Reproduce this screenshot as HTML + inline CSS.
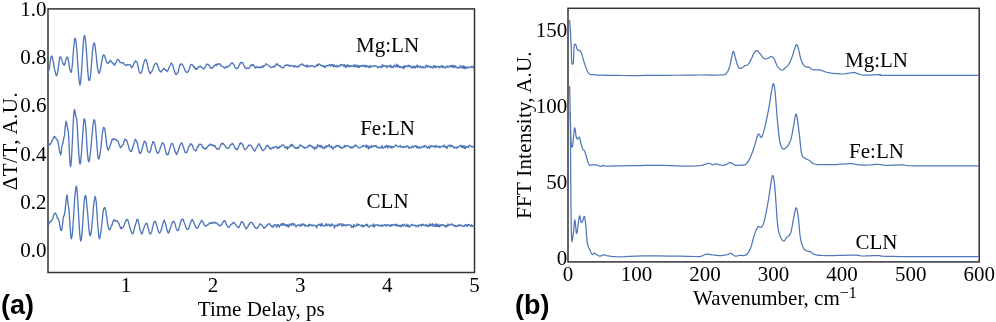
<!DOCTYPE html>
<html><head><meta charset="utf-8"><title>Figure</title>
<style>html,body{margin:0;padding:0;background:#fff;}svg{display:block;will-change:transform;}</style></head>
<body>
<svg width="996" height="322" viewBox="0 0 996 322">

<rect x="48" y="8.9" width="426.5" height="263.6" fill="none" stroke="#333" stroke-width="1.5"/>
<rect x="568" y="8.3" width="411.2" height="253.6" fill="none" stroke="#333" stroke-width="1.5"/>
<defs><clipPath id="cl"><rect x="48" y="0" width="426.5" height="272"/></clipPath><clipPath id="cr"><rect x="568.5" y="0" width="410.5" height="262"/></clipPath></defs>
<g clip-path="url(#cl)" fill="none" stroke="#5077ba" stroke-width="1.35" stroke-linejoin="round">
<path d="M48.00,73.77 L48.50,71.56 L49.00,70.52 L49.50,67.02 L50.00,63.69 L50.50,59.72 L51.00,57.12 L51.50,56.52 L52.01,55.96 L52.52,58.58 L53.03,60.41 L53.54,62.67 L54.05,66.51 L54.56,69.69 L55.07,71.03 L55.58,73.48 L56.09,75.25 L56.60,75.68 L57.14,74.49 L57.69,71.60 L58.23,69.07 L58.77,64.36 L59.31,59.59 L59.86,56.88 L60.40,57.22 L60.91,57.36 L61.43,58.96 L61.94,60.34 L62.46,61.64 L62.97,63.92 L63.49,64.15 L64.00,65.19 L64.53,64.89 L65.07,63.54 L65.60,60.84 L66.13,58.92 L66.67,57.58 L67.20,56.96 L67.74,57.85 L68.29,59.86 L68.83,62.81 L69.37,66.79 L69.91,69.65 L70.46,71.47 L71.00,72.34 L71.53,71.28 L72.05,67.49 L72.58,61.99 L73.10,55.30 L73.62,48.75 L74.15,43.01 L74.67,38.79 L75.20,38.18 L75.73,39.85 L76.27,43.65 L76.80,49.60 L77.33,57.48 L77.87,65.00 L78.40,72.23 L78.93,79.26 L79.47,82.90 L80.00,85.01 L80.50,82.76 L81.00,77.82 L81.50,71.91 L82.00,64.95 L82.50,55.55 L83.00,47.07 L83.50,40.76 L84.00,37.01 L84.50,35.51 L85.03,36.75 L85.57,41.27 L86.10,47.02 L86.63,54.17 L87.17,62.37 L87.70,70.27 L88.23,76.06 L88.77,80.05 L89.30,80.55 L89.82,79.77 L90.34,76.79 L90.87,71.23 L91.39,65.50 L91.91,58.60 L92.43,52.43 L92.96,46.83 L93.48,44.63 L94.00,42.92 L94.54,43.24 L95.09,46.04 L95.63,51.19 L96.18,54.98 L96.72,60.84 L97.27,65.91 L97.81,69.60 L98.36,71.78 L98.90,73.28 L99.43,72.80 L99.97,71.53 L100.50,68.95 L101.03,65.65 L101.57,62.82 L102.10,59.70 L102.63,57.13 L103.17,55.48 L103.70,54.80 L104.24,55.62 L104.79,56.10 L105.33,58.02 L105.87,60.22 L106.41,61.35 L106.96,62.99 L107.50,62.76 L108.00,63.13 L108.50,63.14 L109.00,62.44 L109.50,61.48 L110.00,60.89 L110.50,60.20 L111.04,61.77 L111.59,61.77 L112.13,62.81 L112.67,62.87 L113.21,63.97 L113.76,63.84 L114.30,65.13 L114.84,64.95 L115.39,63.08 L115.93,62.87 L116.47,62.07 L117.01,60.08 L117.56,59.38 L118.10,59.45 L118.70,60.03 L119.30,60.66 L119.90,62.22 L120.50,62.70 L121.15,62.62 L121.80,62.39 L122.33,62.89 L122.86,63.21 L123.39,62.83 L123.91,63.90 L124.44,64.33 L124.97,64.78 L125.50,65.37 L126.05,65.38 L126.60,65.52 L127.15,64.55 L127.70,64.58 L128.25,64.98 L128.80,64.80 L129.35,64.69 L129.90,64.77 L130.50,65.16 L131.10,67.12 L131.70,67.65 L132.24,67.22 L132.77,66.28 L133.31,65.45 L133.85,63.16 L134.39,62.66 L134.93,62.05 L135.46,60.71 L136.00,61.18 L136.55,61.63 L137.10,62.34 L137.65,64.82 L138.20,67.17 L138.75,69.87 L139.30,71.94 L139.85,73.01 L140.40,73.14 L140.92,73.10 L141.44,72.15 L141.96,70.94 L142.48,68.82 L143.00,66.25 L143.52,63.83 L144.04,62.31 L144.56,60.62 L145.08,59.47 L145.60,59.55 L146.12,59.81 L146.64,61.25 L147.17,63.24 L147.69,65.09 L148.21,68.62 L148.73,69.74 L149.26,72.16 L149.78,72.94 L150.30,73.77 L150.84,72.05 L151.38,72.00 L151.92,71.28 L152.46,69.99 L153.00,69.13 L153.54,66.69 L154.08,65.66 L154.62,64.31 L155.16,63.65 L155.70,63.21 L156.22,63.14 L156.74,64.04 L157.26,64.32 L157.78,66.47 L158.30,66.87 L158.82,68.73 L159.34,70.72 L159.86,70.68 L160.38,71.40 L160.90,72.09 L161.42,71.40 L161.93,70.49 L162.45,70.16 L162.97,69.52 L163.48,69.01 L164.00,68.18 L164.52,69.40 L165.03,69.83 L165.55,69.76 L166.07,70.49 L166.58,70.65 L167.10,71.59 L167.64,70.41 L168.18,70.16 L168.71,68.42 L169.25,66.86 L169.79,65.98 L170.32,64.99 L170.86,63.59 L171.40,63.02 L171.90,63.91 L172.40,64.35 L172.90,65.74 L173.40,67.81 L173.90,69.38 L174.40,70.41 L174.90,73.15 L175.40,73.43 L175.90,74.56 L176.40,74.23 L176.93,74.16 L177.47,72.53 L178.00,72.60 L178.53,70.69 L179.07,67.77 L179.60,65.92 L180.13,64.46 L180.67,64.71 L181.20,63.71 L181.73,64.05 L182.25,64.45 L182.78,65.33 L183.31,65.96 L183.84,67.60 L184.36,68.21 L184.89,69.96 L185.42,71.15 L185.95,72.01 L186.47,72.23 L187.00,72.12 L187.52,72.33 L188.04,71.37 L188.57,71.18 L189.09,69.56 L189.61,67.82 L190.13,66.38 L190.66,65.23 L191.18,64.44 L191.70,64.45 L192.20,64.84 L192.70,65.26 L193.20,65.79 L193.70,67.07 L194.20,66.60 L194.70,67.62 L195.20,69.43 L195.70,67.98 L196.20,68.87 L196.70,69.27 L197.20,68.99 L197.70,68.37 L198.20,67.20 L198.70,66.73 L199.20,66.32 L199.74,66.71 L200.27,65.84 L200.81,66.64 L201.35,67.45 L201.89,67.46 L202.43,67.82 L202.96,68.78 L203.50,68.33 L204.00,68.70 L204.50,68.27 L205.00,67.37 L205.50,66.61 L206.00,65.51 L206.50,64.25 L207.00,64.35 L207.50,64.39 L208.01,64.12 L208.53,64.71 L209.04,65.69 L209.55,65.73 L210.06,67.10 L210.57,68.23 L211.09,67.62 L211.60,68.06 L212.12,67.77 L212.63,68.02 L213.15,66.88 L213.67,66.50 L214.18,65.38 L214.70,65.49 L215.24,65.43 L215.77,64.52 L216.31,65.61 L216.85,65.08 L217.39,63.66 L217.93,64.45 L218.46,63.91 L219.00,64.09 L219.55,64.18 L220.10,63.77 L220.65,64.86 L221.20,66.23 L221.75,66.01 L222.30,66.37 L222.85,66.60 L223.40,66.79 L223.94,67.42 L224.49,67.94 L225.03,67.33 L225.58,67.16 L226.12,67.89 L226.67,66.63 L227.21,66.49 L227.76,66.94 L228.30,66.93 L228.84,66.09 L229.39,65.51 L229.93,65.38 L230.47,64.54 L231.01,63.15 L231.56,63.10 L232.10,62.77 L232.61,63.36 L233.12,63.61 L233.63,64.36 L234.14,65.17 L234.66,66.73 L235.17,67.78 L235.68,67.79 L236.19,68.79 L236.70,68.28 L237.22,68.45 L237.74,68.21 L238.27,67.74 L238.79,65.96 L239.31,65.05 L239.83,64.18 L240.36,62.67 L240.88,62.79 L241.40,62.32 L241.91,62.90 L242.42,62.70 L242.93,63.01 L243.44,64.69 L243.95,65.71 L244.46,66.30 L244.97,67.74 L245.48,67.91 L245.99,68.20 L246.50,68.80 L247.10,67.88 L247.70,68.12 L248.30,68.25 L248.90,68.56 L249.47,67.65 L250.05,66.68 L250.62,65.11 L251.20,65.03 L251.80,65.55 L252.40,64.46 L253.00,65.69 L253.60,64.87 L254.20,66.21 L254.80,67.33 L255.40,68.13 L255.93,67.12 L256.47,66.59 L257.00,67.50 L257.53,67.36 L258.07,67.12 L258.60,67.90 L259.14,66.91 L259.69,66.98 L260.23,67.35 L260.77,67.20 L261.31,67.82 L261.86,66.66 L262.40,67.04 L262.93,65.59 L263.46,66.94 L263.99,65.80 L264.51,65.63 L265.04,65.51 L265.57,64.16 L266.10,63.89 L266.73,64.07 L267.37,64.47 L268.00,64.84 L268.56,65.57 L269.12,65.84 L269.68,66.50 L270.24,66.93 L270.80,67.58 L271.34,67.37 L271.88,67.00 L272.42,67.22 L272.96,66.77 L273.50,66.32 L274.04,67.27 L274.59,66.47 L275.13,65.31 L275.67,65.54 L276.21,64.67 L276.76,63.48 L277.30,64.68 L277.84,64.36 L278.38,65.17 L278.92,65.59 L279.46,66.02 L280.00,65.65 L280.58,66.84 L281.16,66.80 L281.74,67.10 L282.32,67.71 L282.90,67.73 L283.43,67.85 L283.96,67.02 L284.49,66.60 L285.01,65.09 L285.54,65.25 L286.07,65.32 L286.60,65.46 L287.11,64.77 L287.62,64.92 L288.13,65.72 L288.64,65.03 L289.15,65.59 L289.65,66.12 L290.16,65.55 L290.67,66.16 L291.18,65.43 L291.69,65.87 L292.20,65.77 L292.71,65.87 L293.22,66.35 L293.73,66.98 L294.24,65.81 L294.75,65.99 L295.25,66.58 L295.76,66.06 L296.27,66.84 L296.78,66.96 L297.29,66.66 L297.80,67.02 L298.31,66.06 L298.82,66.79 L299.33,65.45 L299.84,65.35 L300.36,64.92 L300.87,64.53 L301.38,64.69 L301.89,64.12 L302.40,63.83 L302.96,64.40 L303.52,65.29 L304.08,65.18 L304.64,65.78 L305.20,66.32 L305.73,65.93 L306.27,65.32 L306.80,66.97 L307.33,66.93 L307.87,65.26 L308.40,66.16 L308.93,66.42 L309.47,66.69 L310.00,66.58 L311.00,65.42 L311.50,66.16 L312.00,65.83 L312.50,65.92 L313.00,65.60 L313.50,66.16 L314.00,67.09 L314.50,66.56 L315.00,66.88 L315.50,66.19 L316.00,66.12 L316.50,65.78 L317.00,64.30 L317.50,65.89 L318.00,65.51 L318.50,65.41 L319.00,63.83 L319.50,63.80 L320.00,64.45 L320.50,64.86 L321.00,65.55 L321.50,65.48 L322.00,66.07 L322.50,65.45 L323.00,66.29 L323.50,66.50 L324.00,65.87 L324.50,67.59 L325.00,66.78 L325.50,67.18 L326.00,65.81 L326.50,65.59 L327.00,65.70 L327.50,65.69 L328.00,66.03 L328.50,65.60 L329.00,64.98 L329.50,64.53 L330.00,64.79 L330.50,66.01 L331.00,64.65 L331.50,65.49 L332.00,65.76 L332.50,64.59 L333.00,65.85 L333.50,66.91 L334.00,64.76 L334.50,66.08 L335.00,66.33 L335.50,65.89 L336.00,66.81 L336.50,66.37 L337.00,65.30 L337.50,66.77 L338.00,66.51 L338.50,66.53 L339.00,66.71 L339.50,65.80 L340.00,65.51 L340.50,64.42 L341.00,65.72 L341.50,64.87 L342.00,65.04 L342.50,64.57 L343.00,64.91 L343.50,65.38 L344.00,66.83 L344.50,64.67 L345.00,65.23 L345.50,66.55 L346.00,67.49 L346.50,66.94 L347.00,65.21 L347.50,64.73 L348.00,66.66 L348.50,65.77 L349.00,65.35 L349.50,66.66 L350.00,66.59 L350.50,65.78 L351.00,65.73 L351.50,65.78 L352.00,66.55 L352.50,65.87 L353.00,65.85 L353.50,65.97 L354.00,64.62 L354.50,66.76 L355.00,66.70 L355.50,66.57 L356.00,64.96 L356.50,66.03 L357.00,67.15 L357.50,65.34 L358.00,66.48 L358.50,67.28 L359.00,65.57 L359.50,67.50 L360.00,66.62 L360.50,65.98 L361.00,66.16 L361.50,66.25 L362.00,65.77 L362.50,66.41 L363.00,65.11 L363.50,65.29 L364.00,66.36 L364.50,65.74 L365.00,65.22 L365.50,66.65 L366.00,67.16 L366.50,65.98 L367.00,65.47 L367.50,66.46 L368.00,66.53 L368.50,66.47 L369.00,67.67 L369.50,65.93 L370.00,67.45 L370.50,65.57 L371.00,65.78 L371.50,66.63 L372.00,66.84 L372.50,66.53 L373.00,66.06 L373.50,65.85 L374.00,65.82 L374.50,66.12 L375.00,65.64 L375.50,66.05 L376.00,66.37 L376.50,66.10 L377.00,66.78 L377.50,66.79 L378.00,67.93 L378.50,66.86 L379.00,66.41 L379.50,66.50 L380.00,66.75 L380.50,67.37 L381.00,66.42 L381.50,66.82 L382.00,67.72 L382.50,64.50 L383.00,65.38 L383.50,66.22 L384.00,66.23 L384.50,66.05 L385.00,65.55 L385.50,66.32 L386.00,66.10 L386.50,65.62 L387.00,67.79 L387.50,66.47 L388.00,65.97 L388.50,66.42 L389.00,66.45 L389.50,66.67 L390.00,64.88 L390.50,66.49 L391.00,67.54 L391.50,65.98 L392.00,66.69 L392.50,67.31 L393.00,67.13 L393.50,67.45 L394.00,65.10 L394.50,65.93 L395.00,65.85 L395.50,66.46 L396.00,66.76 L396.50,64.12 L397.00,66.81 L397.50,65.10 L398.00,66.69 L398.50,65.29 L399.00,66.58 L399.50,67.42 L400.00,66.60 L400.50,66.93 L401.00,67.43 L401.50,67.00 L402.00,66.85 L402.50,67.95 L403.00,67.55 L403.50,66.53 L404.00,68.55 L404.50,65.71 L405.00,67.04 L405.50,66.12 L406.00,66.31 L406.50,66.66 L407.00,66.29 L407.50,66.59 L408.00,65.11 L408.50,65.19 L409.00,66.77 L409.50,65.78 L410.00,65.85 L410.50,65.66 L411.00,67.68 L411.50,67.40 L412.00,67.98 L412.50,66.32 L413.00,66.98 L413.50,66.16 L414.00,67.44 L414.50,67.93 L415.00,66.10 L415.50,67.71 L416.00,67.21 L416.50,66.30 L417.00,64.97 L417.50,67.29 L418.00,66.21 L418.50,65.86 L419.00,66.60 L419.50,66.67 L420.00,67.52 L420.50,65.85 L421.00,67.47 L421.50,67.82 L422.00,67.90 L422.50,66.84 L423.00,66.50 L423.50,67.77 L424.00,67.14 L424.50,67.12 L425.00,67.98 L425.50,66.73 L426.00,65.22 L426.50,66.46 L427.00,65.34 L427.50,67.13 L428.00,66.71 L428.50,66.01 L429.00,66.41 L429.50,67.01 L430.00,66.51 L430.50,67.45 L431.00,66.55 L431.50,67.41 L432.00,67.83 L432.50,68.01 L433.00,66.50 L433.50,67.66 L434.00,65.79 L434.50,66.37 L435.00,65.76 L435.50,67.86 L436.00,66.20 L436.50,66.99 L437.00,66.79 L437.50,66.82 L438.00,66.34 L438.50,66.84 L439.00,67.87 L439.50,66.61 L440.00,66.93 L440.50,67.27 L441.00,66.46 L441.50,65.77 L442.00,66.33 L442.50,67.55 L443.00,65.74 L443.50,66.56 L444.00,67.77 L444.50,67.68 L445.00,67.18 L445.50,67.77 L446.00,67.32 L446.50,66.36 L447.00,66.05 L447.50,66.64 L448.00,67.67 L448.50,66.55 L449.00,66.24 L449.50,66.27 L450.00,65.68 L450.50,66.63 L451.00,65.88 L451.50,66.96 L452.00,65.08 L452.50,67.01 L453.00,66.40 L453.50,65.56 L454.00,67.51 L454.50,66.89 L455.00,65.59 L455.50,66.60 L456.00,67.46 L456.50,66.96 L457.00,67.83 L457.50,67.79 L458.00,67.69 L458.50,67.41 L459.00,68.05 L459.50,67.52 L460.00,67.31 L460.50,65.47 L461.00,67.51 L461.50,67.77 L462.00,66.63 L462.50,66.52 L463.00,68.23 L463.50,65.69 L464.00,67.30 L464.50,68.73 L465.00,66.46 L465.50,67.66 L466.00,68.56 L466.50,67.21 L467.00,67.72 L467.50,67.98 L468.00,66.72 L468.50,67.28 L469.00,67.51 L469.50,67.85 L470.00,67.19 L470.50,67.02 L471.00,66.40 L471.50,66.81 L472.00,67.64 L472.50,67.06 L473.00,66.39 L473.50,66.40 L474.00,68.88 L474.50,67.85"/>
<path d="M48.00,145.54 L48.57,145.04 L49.13,145.18 L49.70,143.95 L50.20,144.29 L50.70,143.98 L51.20,142.56 L51.70,141.99 L52.20,140.03 L52.70,139.78 L53.20,138.41 L53.70,136.84 L54.20,137.26 L54.70,136.43 L55.20,137.64 L55.70,137.62 L56.20,138.83 L56.70,139.81 L57.20,139.86 L57.70,140.84 L58.20,142.53 L58.70,146.00 L59.20,148.99 L59.70,152.02 L60.20,152.82 L60.70,155.19 L61.27,152.19 L61.83,146.38 L62.40,144.64 L62.93,143.02 L63.47,139.72 L64.00,137.05 L64.50,135.78 L65.00,129.33 L65.50,124.68 L66.00,121.24 L66.50,122.79 L67.00,125.25 L67.50,127.83 L68.00,129.96 L68.50,133.48 L69.00,143.17 L69.50,154.53 L70.00,163.36 L70.50,166.50 L71.00,164.73 L71.50,158.48 L72.00,149.08 L72.50,138.64 L73.00,127.52 L73.50,117.92 L74.00,111.86 L74.50,109.54 L75.03,111.41 L75.57,115.09 L76.10,116.90 L76.66,118.57 L77.21,124.85 L77.77,135.64 L78.33,145.71 L78.89,155.68 L79.44,161.15 L80.00,164.06 L80.50,162.84 L81.00,158.26 L81.50,152.58 L82.00,145.66 L82.50,137.89 L83.00,130.67 L83.50,123.57 L84.00,119.39 L84.50,118.82 L85.03,120.63 L85.55,124.98 L86.08,131.33 L86.60,140.43 L87.12,148.66 L87.65,155.54 L88.17,159.76 L88.70,161.73 L89.22,161.08 L89.74,158.02 L90.25,153.54 L90.77,149.40 L91.29,143.70 L91.81,137.50 L92.33,132.11 L92.85,126.44 L93.36,122.71 L93.88,120.13 L94.40,119.64 L94.94,121.58 L95.48,125.11 L96.01,132.52 L96.55,139.89 L97.09,147.18 L97.62,153.53 L98.16,158.33 L98.70,159.02 L99.22,158.27 L99.74,155.62 L100.26,152.74 L100.78,148.68 L101.30,143.42 L101.82,138.46 L102.34,133.77 L102.86,130.41 L103.38,127.48 L103.90,127.74 L104.43,127.98 L104.95,130.12 L105.47,133.90 L106.00,138.15 L106.53,143.15 L107.05,146.86 L107.57,148.28 L108.10,150.09 L108.60,149.82 L109.10,148.46 L109.60,146.93 L110.10,145.79 L110.60,144.23 L111.10,143.04 L111.60,141.29 L112.10,139.44 L112.60,139.65 L113.10,138.66 L113.63,139.71 L114.16,138.89 L114.69,139.20 L115.21,139.25 L115.74,139.48 L116.27,140.32 L116.80,140.16 L117.30,140.35 L117.80,141.08 L118.30,141.56 L118.80,143.48 L119.30,144.96 L119.80,146.05 L120.30,147.52 L120.80,147.29 L121.31,147.10 L121.82,146.38 L122.33,145.05 L122.84,145.02 L123.35,144.06 L123.86,142.31 L124.37,140.68 L124.88,139.05 L125.39,139.67 L125.90,139.91 L126.40,139.83 L126.90,140.97 L127.40,142.58 L127.90,144.16 L128.40,145.41 L128.90,147.96 L129.40,149.57 L129.90,149.97 L130.40,151.33 L130.90,151.20 L131.44,151.38 L131.99,150.59 L132.53,148.25 L133.08,145.81 L133.62,145.07 L134.17,142.66 L134.71,141.47 L135.26,139.22 L135.80,139.85 L136.35,140.80 L136.90,142.29 L137.45,143.63 L138.00,146.51 L138.55,149.01 L139.10,151.77 L139.65,153.30 L140.20,153.44 L140.71,152.46 L141.22,152.26 L141.73,150.10 L142.24,148.54 L142.76,146.23 L143.27,144.78 L143.78,142.93 L144.29,141.18 L144.80,141.15 L145.33,142.19 L145.85,142.52 L146.38,144.86 L146.90,147.45 L147.43,149.75 L147.95,151.38 L148.47,151.89 L149.00,152.37 L149.55,152.59 L150.10,151.47 L150.65,150.61 L151.20,147.09 L151.75,145.84 L152.30,143.92 L152.85,141.71 L153.40,141.66 L153.94,142.50 L154.47,143.46 L155.01,145.45 L155.55,147.90 L156.09,149.54 L156.62,151.93 L157.16,152.70 L157.70,153.17 L158.20,153.37 L158.70,152.17 L159.20,151.38 L159.70,150.48 L160.20,148.21 L160.70,146.53 L161.20,145.45 L161.70,143.84 L162.20,143.71 L162.70,142.46 L163.22,143.61 L163.74,144.13 L164.27,145.54 L164.79,148.49 L165.31,149.39 L165.83,152.36 L166.36,153.43 L166.88,154.76 L167.40,154.09 L167.91,154.67 L168.42,153.80 L168.93,151.65 L169.44,149.82 L169.96,148.96 L170.47,146.17 L170.98,144.43 L171.49,143.37 L172.00,143.49 L172.52,143.76 L173.04,144.61 L173.57,146.67 L174.09,147.54 L174.61,149.72 L175.13,151.86 L175.66,152.24 L176.18,154.02 L176.70,154.67 L177.21,153.01 L177.72,152.20 L178.23,150.81 L178.74,148.74 L179.26,147.87 L179.77,145.17 L180.28,144.75 L180.79,144.23 L181.30,142.62 L181.82,143.46 L182.34,143.62 L182.87,146.03 L183.39,146.96 L183.91,148.82 L184.43,150.52 L184.96,152.01 L185.48,152.46 L186.00,152.91 L186.52,152.41 L187.04,151.92 L187.57,150.21 L188.09,149.29 L188.61,146.92 L189.13,146.09 L189.66,145.93 L190.18,144.40 L190.70,143.57 L191.21,144.41 L191.72,144.46 L192.23,145.06 L192.74,146.52 L193.26,148.28 L193.77,149.21 L194.28,149.89 L194.79,150.11 L195.30,150.25 L195.82,151.07 L196.34,150.04 L196.87,148.68 L197.39,147.13 L197.91,146.31 L198.43,146.86 L198.96,144.48 L199.48,144.36 L200.00,144.29 L200.50,144.25 L201.00,144.53 L201.50,144.59 L202.00,145.38 L202.50,147.26 L203.00,146.96 L203.50,148.29 L204.00,147.74 L204.50,148.67 L205.00,149.01 L205.54,149.22 L206.09,147.98 L206.63,148.20 L207.18,147.49 L207.72,146.36 L208.27,146.25 L208.81,145.17 L209.36,144.88 L209.90,145.09 L210.43,143.98 L210.96,145.13 L211.49,144.84 L212.01,144.73 L212.54,145.25 L213.07,145.80 L213.60,145.33 L214.15,146.17 L214.70,145.55 L215.25,146.09 L215.80,148.00 L216.35,148.23 L216.90,149.06 L217.45,148.71 L218.00,149.54 L218.54,149.10 L219.07,148.65 L219.61,147.48 L220.15,146.91 L220.69,145.06 L221.23,144.02 L221.76,143.19 L222.30,144.09 L222.82,143.41 L223.34,143.64 L223.86,144.24 L224.38,145.14 L224.90,145.57 L225.42,146.75 L225.94,147.31 L226.46,147.89 L226.98,148.07 L227.50,148.62 L228.03,148.26 L228.57,148.10 L229.10,147.53 L229.63,146.80 L230.17,144.92 L230.70,144.85 L231.23,144.12 L231.77,144.37 L232.30,143.24 L232.84,143.82 L233.38,144.61 L233.91,145.52 L234.45,147.17 L234.99,147.65 L235.53,149.17 L236.06,148.77 L236.60,148.84 L237.15,149.86 L237.70,148.82 L238.25,147.77 L238.80,146.35 L239.35,145.24 L239.90,143.46 L240.45,143.65 L241.00,142.78 L241.54,143.67 L242.07,144.00 L242.61,144.21 L243.15,145.76 L243.69,148.04 L244.23,148.58 L244.76,149.18 L245.30,149.70 L245.85,149.22 L246.40,148.60 L246.95,148.01 L247.50,147.01 L248.05,146.57 L248.60,145.10 L249.15,145.29 L249.70,145.06 L250.24,145.21 L250.79,145.47 L251.33,145.90 L251.88,146.92 L252.42,147.88 L252.97,148.64 L253.51,149.75 L254.06,150.04 L254.60,151.19 L255.15,150.50 L255.70,149.45 L256.25,147.87 L256.80,147.53 L257.35,146.25 L257.90,145.01 L258.45,144.35 L259.00,143.65 L259.54,145.06 L260.07,145.44 L260.61,147.51 L261.15,147.54 L261.69,148.62 L262.23,150.24 L262.76,150.33 L263.30,150.57 L263.83,150.10 L264.36,149.30 L264.89,149.19 L265.41,147.86 L265.94,147.16 L266.47,145.60 L267.00,145.51 L267.54,145.28 L268.09,146.49 L268.63,146.12 L269.17,147.63 L269.71,148.48 L270.26,149.04 L270.80,148.21 L271.32,149.00 L271.85,148.08 L272.38,147.82 L272.90,147.29 L273.43,148.05 L273.95,148.01 L274.48,146.91 L275.00,146.78 L276.00,146.54 L276.50,146.57 L277.00,147.71 L277.50,148.60 L278.00,147.51 L278.50,147.55 L279.00,147.98 L279.50,146.52 L280.00,147.09 L280.50,146.49 L281.00,146.53 L281.50,145.40 L282.00,144.95 L282.50,145.06 L283.00,145.24 L283.50,145.02 L284.00,145.72 L284.50,146.58 L285.00,147.32 L285.50,148.12 L286.00,147.07 L286.50,147.63 L287.00,146.59 L287.50,149.26 L288.00,147.56 L288.50,147.69 L289.00,147.63 L289.50,146.04 L290.00,146.66 L290.50,145.93 L291.00,144.51 L291.50,145.57 L292.00,146.06 L292.50,144.33 L293.00,146.19 L293.50,146.21 L294.00,146.81 L294.50,147.26 L295.00,148.21 L295.50,147.64 L296.00,148.52 L296.50,147.82 L297.00,148.41 L297.50,147.25 L298.00,147.31 L298.50,147.99 L299.00,146.76 L299.50,145.97 L300.00,145.04 L300.50,145.02 L301.00,145.53 L301.50,146.05 L302.00,145.96 L302.50,146.36 L303.00,146.44 L303.50,147.72 L304.00,147.09 L304.50,147.34 L305.00,148.44 L305.50,148.04 L306.00,147.78 L306.50,147.40 L307.00,147.27 L307.50,147.41 L308.00,146.81 L308.50,145.46 L309.00,146.10 L309.50,145.71 L310.00,144.90 L310.50,146.00 L311.00,145.55 L311.50,145.82 L312.00,146.88 L312.50,147.61 L313.00,146.81 L313.50,147.83 L314.00,147.29 L314.50,149.32 L315.00,147.61 L315.50,148.46 L316.00,147.08 L316.50,147.59 L317.00,148.03 L317.50,144.78 L318.00,145.70 L318.50,146.01 L319.00,145.53 L319.50,145.20 L320.00,147.03 L320.50,146.05 L321.00,145.37 L321.50,147.26 L322.00,146.10 L322.50,148.16 L323.00,147.38 L323.50,147.95 L324.00,148.62 L324.50,147.81 L325.00,146.66 L325.50,146.14 L326.00,147.50 L326.50,146.85 L327.00,145.58 L327.50,146.34 L328.00,145.98 L328.50,146.05 L329.00,144.42 L329.50,145.82 L330.00,146.86 L330.50,147.12 L331.00,147.58 L331.50,145.90 L332.00,147.74 L332.50,148.08 L333.00,149.34 L333.50,147.14 L334.00,147.31 L334.50,147.23 L335.00,147.40 L335.50,146.24 L336.00,146.87 L336.50,145.45 L337.00,145.93 L337.50,145.42 L338.00,145.91 L338.50,145.59 L339.00,145.33 L339.50,147.28 L340.00,147.15 L340.50,146.95 L341.00,147.66 L341.50,148.30 L342.00,147.17 L342.50,147.62 L343.00,147.84 L343.50,147.57 L344.00,146.73 L344.50,145.33 L345.00,147.03 L345.50,146.23 L346.00,145.88 L346.50,145.64 L347.00,146.02 L347.50,145.77 L348.00,145.66 L348.50,146.13 L349.00,146.54 L349.50,146.84 L350.00,146.76 L350.50,148.01 L351.00,146.91 L351.50,148.05 L352.00,146.90 L352.50,147.49 L353.00,147.82 L353.50,146.80 L354.00,145.95 L354.50,146.17 L355.00,146.05 L355.50,144.85 L356.00,145.56 L356.50,146.15 L357.00,145.99 L357.50,146.59 L358.00,147.28 L358.50,147.59 L359.00,147.92 L359.50,147.90 L360.00,147.46 L360.50,147.60 L361.00,147.33 L361.50,147.11 L362.00,146.93 L362.50,145.72 L363.00,146.28 L363.50,146.22 L364.00,145.48 L364.50,145.96 L365.00,146.29 L365.50,145.99 L366.00,147.52 L366.50,144.95 L367.00,146.66 L367.50,145.96 L368.00,147.88 L368.50,149.06 L369.00,146.06 L369.50,147.64 L370.00,147.78 L370.50,147.12 L371.00,147.41 L371.50,145.47 L372.00,147.07 L372.50,146.55 L373.00,146.17 L373.50,145.71 L374.00,146.44 L374.50,145.84 L375.00,146.42 L375.50,146.19 L376.00,145.40 L376.50,146.98 L377.00,147.34 L377.50,147.84 L378.00,146.96 L378.50,147.49 L379.00,147.81 L379.50,147.39 L380.00,147.85 L381.00,148.09 L381.50,146.20 L382.00,145.61 L382.50,147.64 L383.00,148.16 L383.50,147.74 L384.00,147.62 L384.50,146.53 L385.00,146.35 L385.50,147.34 L386.00,145.94 L386.50,145.19 L387.00,145.67 L387.50,148.06 L388.00,147.66 L388.50,145.87 L389.00,145.92 L389.50,146.70 L390.00,146.15 L390.50,147.72 L391.00,146.87 L391.50,146.26 L392.00,147.99 L392.50,146.68 L393.00,147.21 L393.50,146.97 L394.00,146.65 L394.50,146.97 L395.00,146.12 L395.50,145.20 L396.00,144.85 L396.50,145.45 L397.00,145.79 L397.50,146.33 L398.00,146.46 L398.50,146.91 L399.00,146.73 L399.50,146.22 L400.00,146.40 L400.50,145.51 L401.00,146.94 L401.50,147.42 L402.00,147.42 L402.50,146.90 L403.00,146.76 L403.50,147.42 L404.00,146.65 L404.50,147.03 L405.00,146.82 L405.50,146.50 L406.00,147.24 L406.50,145.95 L407.00,146.16 L407.50,145.94 L408.00,146.07 L408.50,147.84 L409.00,148.10 L409.50,146.99 L410.00,147.44 L410.50,147.89 L411.00,147.62 L411.50,147.84 L412.00,146.02 L412.50,146.34 L413.00,146.98 L413.50,147.55 L414.00,146.51 L414.50,145.77 L415.00,146.09 L415.50,145.89 L416.00,145.80 L416.50,147.54 L417.00,146.16 L417.50,146.74 L418.00,148.36 L418.50,147.78 L419.00,147.26 L419.50,146.63 L420.00,147.34 L420.50,148.14 L421.00,147.35 L421.50,147.69 L422.00,146.76 L422.50,146.93 L423.00,146.32 L423.50,146.69 L424.00,147.26 L424.50,145.35 L425.00,146.35 L425.50,146.64 L426.00,146.18 L426.50,146.48 L427.00,147.37 L427.50,148.32 L428.00,147.44 L428.50,147.27 L429.00,145.96 L429.50,148.35 L430.00,146.98 L430.50,146.80 L431.00,145.93 L431.50,146.55 L432.00,145.72 L432.50,146.46 L433.00,146.69 L433.50,146.38 L434.00,146.59 L434.50,145.87 L435.00,147.56 L435.50,146.22 L436.00,145.52 L436.50,146.77 L437.00,146.45 L437.50,146.32 L438.00,146.79 L438.50,147.21 L439.00,146.11 L439.50,146.75 L440.00,147.73 L440.50,147.10 L441.00,146.41 L441.50,146.52 L442.00,146.30 L442.50,146.33 L443.00,146.90 L443.50,146.39 L444.00,144.86 L444.50,146.64 L445.00,146.15 L445.50,147.33 L446.00,146.53 L446.50,147.12 L447.00,148.55 L447.50,146.27 L448.00,146.16 L448.50,145.87 L449.00,145.08 L449.50,145.33 L450.00,146.79 L450.50,146.01 L451.00,145.09 L451.50,145.34 L452.00,146.83 L452.50,145.90 L453.00,146.27 L453.50,146.87 L454.00,147.69 L454.50,148.21 L455.00,147.66 L455.50,147.10 L456.00,147.15 L456.50,148.27 L457.00,147.96 L457.50,146.66 L458.00,147.10 L458.50,146.87 L459.00,146.60 L459.50,146.12 L460.00,145.48 L460.50,146.01 L461.00,145.32 L461.50,147.30 L462.00,146.89 L462.50,145.77 L463.00,147.70 L463.50,147.45 L464.00,145.58 L464.50,148.27 L465.00,147.57 L465.50,148.45 L466.00,146.10 L466.50,147.26 L467.00,147.09 L467.50,146.83 L468.00,146.71 L468.50,147.23 L469.00,145.39 L469.50,145.53 L470.00,145.42 L470.50,146.05 L471.00,146.08 L471.50,146.85 L472.00,146.89 L472.50,146.82 L473.00,146.42 L473.50,146.65 L474.00,147.66 L474.50,147.53"/>
<path d="M48.00,223.23 L48.50,222.97 L49.00,224.01 L49.50,222.00 L50.00,222.29 L50.50,221.25 L51.00,221.13 L51.55,221.00 L52.10,219.47 L52.65,218.85 L53.20,217.06 L53.75,214.69 L54.30,214.25 L54.85,213.34 L55.40,212.99 L55.90,214.01 L56.40,214.60 L56.90,216.75 L57.40,218.27 L57.90,218.12 L58.40,219.62 L58.90,220.23 L59.40,222.77 L59.90,226.30 L60.40,228.11 L60.90,230.24 L61.40,230.21 L61.90,229.51 L62.40,225.28 L62.90,221.29 L63.40,216.78 L63.90,216.19 L64.43,214.56 L64.97,211.05 L65.50,206.02 L66.03,201.13 L66.57,196.88 L67.10,195.02 L67.75,201.46 L68.40,206.41 L68.98,209.69 L69.56,218.14 L70.14,227.11 L70.72,235.70 L71.30,238.84 L71.80,237.38 L72.30,234.25 L72.80,228.28 L73.30,220.72 L73.80,212.59 L74.30,205.27 L74.80,197.38 L75.30,192.13 L75.80,188.37 L76.30,186.10 L76.80,188.07 L77.30,193.21 L77.80,200.52 L78.30,209.50 L78.80,218.87 L79.30,227.76 L79.80,234.34 L80.30,239.09 L80.80,241.13 L81.30,239.25 L81.80,235.93 L82.30,228.78 L82.80,222.32 L83.30,214.09 L83.80,205.92 L84.30,201.12 L84.80,196.90 L85.30,195.41 L85.84,196.17 L86.39,199.94 L86.93,206.16 L87.48,211.79 L88.02,217.71 L88.57,225.42 L89.11,230.66 L89.66,234.62 L90.20,235.73 L90.70,234.56 L91.20,231.82 L91.70,228.30 L92.20,221.82 L92.70,217.22 L93.20,210.15 L93.70,204.48 L94.20,200.95 L94.70,198.09 L95.20,196.46 L95.73,198.79 L96.25,202.20 L96.78,209.32 L97.30,218.12 L97.83,225.48 L98.35,231.78 L98.88,237.04 L99.40,238.79 L99.90,237.63 L100.40,234.67 L100.90,231.84 L101.40,227.83 L101.90,223.17 L102.40,218.82 L102.90,213.60 L103.40,210.07 L103.90,208.05 L104.40,207.81 L104.90,207.45 L105.40,209.99 L105.90,210.76 L106.40,215.37 L106.90,218.22 L107.40,222.15 L107.90,225.37 L108.40,227.06 L108.90,229.12 L109.40,229.80 L109.94,229.66 L110.49,228.20 L111.03,226.91 L111.58,224.97 L112.12,225.19 L112.67,222.49 L113.21,221.22 L113.76,219.86 L114.30,220.59 L114.80,220.05 L115.30,221.08 L115.80,221.08 L116.30,220.93 L116.80,221.31 L117.34,220.77 L117.89,221.78 L118.43,222.71 L118.98,223.69 L119.52,225.58 L120.07,226.79 L120.61,228.49 L121.16,227.16 L121.70,228.52 L122.23,228.20 L122.76,227.76 L123.29,227.14 L123.82,225.89 L124.35,224.36 L124.88,222.78 L125.41,221.94 L125.94,220.90 L126.47,219.34 L127.00,219.79 L127.54,219.65 L128.08,220.69 L128.62,222.74 L129.16,224.59 L129.70,226.70 L130.24,228.37 L130.78,230.53 L131.32,231.73 L131.86,233.23 L132.40,233.69 L132.90,233.81 L133.40,232.64 L133.90,230.28 L134.40,228.54 L134.90,226.26 L135.40,224.69 L135.90,223.51 L136.40,221.49 L136.90,219.31 L137.40,219.37 L137.94,219.87 L138.47,222.09 L139.01,224.07 L139.55,226.78 L140.09,229.98 L140.62,231.08 L141.16,232.53 L141.70,234.23 L142.22,233.24 L142.74,231.89 L143.27,230.02 L143.79,228.59 L144.31,226.45 L144.83,225.85 L145.36,224.50 L145.88,224.02 L146.40,223.24 L146.96,223.53 L147.51,224.98 L148.07,228.22 L148.63,229.04 L149.19,231.98 L149.74,233.39 L150.30,234.16 L150.81,233.35 L151.32,232.65 L151.83,231.12 L152.34,228.67 L152.86,226.37 L153.37,224.45 L153.88,222.46 L154.39,221.69 L154.90,221.27 L155.42,221.84 L155.94,223.31 L156.47,224.82 L156.99,225.96 L157.51,228.40 L158.03,230.15 L158.56,231.87 L159.08,232.56 L159.60,233.01 L160.12,232.34 L160.64,231.18 L161.17,230.29 L161.69,228.53 L162.21,226.19 L162.73,224.16 L163.26,222.50 L163.78,221.17 L164.30,220.25 L164.84,221.84 L165.39,223.21 L165.93,225.16 L166.47,227.50 L167.01,230.71 L167.56,230.98 L168.10,233.04 L168.60,232.35 L169.10,232.43 L169.60,230.12 L170.10,229.10 L170.60,227.41 L171.10,226.14 L171.60,224.50 L172.10,222.97 L172.60,222.72 L173.10,221.29 L173.60,221.19 L174.16,222.09 L174.71,222.92 L175.27,224.83 L175.83,227.23 L176.39,228.79 L176.94,229.72 L177.50,230.66 L178.04,230.25 L178.59,230.04 L179.13,227.29 L179.68,226.23 L180.22,223.45 L180.77,221.70 L181.31,220.14 L181.86,219.37 L182.40,219.26 L182.91,219.89 L183.42,219.64 L183.93,221.64 L184.44,222.98 L184.95,224.54 L185.46,225.52 L185.97,227.69 L186.48,228.44 L186.99,229.39 L187.50,229.39 L188.02,229.49 L188.54,228.85 L189.07,227.58 L189.59,225.45 L190.11,224.28 L190.63,222.91 L191.16,220.63 L191.68,220.81 L192.20,219.34 L192.72,220.38 L193.24,221.13 L193.77,222.62 L194.29,223.49 L194.81,224.63 L195.33,225.87 L195.86,226.79 L196.38,228.37 L196.90,228.20 L197.44,227.78 L197.99,227.66 L198.53,226.13 L199.08,225.06 L199.62,223.76 L200.17,223.44 L200.71,222.38 L201.26,221.06 L201.80,220.24 L202.34,221.26 L202.89,221.87 L203.43,222.99 L203.97,224.19 L204.51,224.82 L205.06,226.04 L205.60,226.25 L206.10,225.93 L206.60,225.50 L207.10,225.20 L207.60,225.34 L208.10,224.19 L208.60,224.18 L209.10,223.53 L209.60,222.92 L210.10,223.48 L210.60,223.05 L211.10,223.02 L211.60,223.35 L212.10,222.32 L212.60,222.85 L213.10,222.91 L213.60,223.05 L214.10,222.15 L214.60,222.82 L215.10,222.55 L215.60,222.98 L216.10,222.88 L216.63,222.81 L217.16,224.00 L217.69,223.84 L218.21,224.48 L218.74,225.26 L219.27,225.52 L219.80,226.09 L220.35,225.12 L220.90,225.33 L221.45,224.74 L222.00,224.02 L222.55,222.50 L223.10,222.42 L223.65,221.02 L224.20,221.04 L224.74,220.54 L225.27,221.66 L225.81,222.62 L226.35,224.71 L226.89,225.47 L227.43,225.77 L227.96,227.09 L228.50,227.30 L229.00,226.89 L229.50,226.68 L230.00,226.05 L230.50,225.32 L231.00,224.12 L231.50,224.12 L232.00,224.05 L232.50,223.62 L233.00,222.60 L233.50,222.29 L234.00,222.64 L234.50,223.45 L235.00,223.77 L235.50,224.09 L236.00,225.25 L236.50,225.79 L237.00,226.78 L237.50,226.96 L238.00,226.87 L238.50,227.62 L239.00,227.60 L239.50,225.98 L240.00,225.15 L240.50,224.17 L241.00,222.41 L241.50,221.44 L242.00,222.23 L242.53,222.01 L243.05,222.85 L243.57,223.17 L244.10,225.57 L244.62,225.56 L245.15,227.16 L245.67,228.44 L246.20,228.94 L246.74,227.83 L247.29,227.39 L247.83,226.91 L248.38,225.01 L248.92,224.96 L249.47,223.90 L250.01,222.65 L250.56,222.51 L251.10,222.42 L251.64,222.38 L252.18,222.91 L252.72,224.02 L253.26,224.08 L253.80,225.32 L254.34,226.01 L254.88,227.52 L255.42,227.63 L255.96,228.44 L256.50,228.46 L257.03,228.20 L257.56,228.25 L258.09,226.62 L258.61,226.23 L259.14,225.08 L259.67,224.66 L260.20,223.83 L260.75,224.43 L261.30,224.81 L261.85,224.92 L262.40,226.06 L262.95,226.68 L263.50,227.39 L264.05,228.37 L264.60,227.71 L265.14,227.15 L265.68,226.65 L266.21,226.46 L266.75,225.54 L267.29,224.96 L267.82,224.47 L268.36,224.48 L268.90,223.73 L269.43,223.94 L269.96,223.89 L270.49,225.04 L271.01,226.05 L271.54,226.66 L272.07,225.75 L272.60,227.06 L273.20,227.08 L273.80,226.13 L274.40,224.56 L275.00,224.78 L276.00,224.95 L276.50,227.28 L277.00,226.33 L277.50,225.30 L278.00,224.44 L278.50,225.29 L279.00,226.63 L279.50,227.02 L280.00,225.26 L280.50,224.75 L281.00,224.69 L281.50,223.47 L282.00,225.42 L282.50,223.84 L283.00,225.42 L283.50,223.38 L284.00,223.81 L284.50,225.13 L285.00,224.52 L285.50,225.88 L286.00,225.49 L286.50,224.76 L287.00,226.22 L287.50,226.43 L288.00,224.35 L288.50,227.07 L289.00,225.94 L289.50,225.96 L290.00,223.81 L290.50,224.47 L291.00,224.58 L291.50,225.53 L292.00,223.56 L292.50,223.99 L293.00,223.20 L293.50,224.66 L294.00,225.26 L294.50,223.92 L295.00,224.94 L295.50,225.94 L296.00,226.88 L296.50,226.27 L297.00,225.57 L297.50,224.87 L298.00,224.95 L298.50,225.01 L299.00,225.44 L299.50,225.10 L300.00,226.21 L300.50,225.03 L301.00,223.91 L301.50,225.84 L302.00,225.41 L302.50,224.86 L303.00,224.38 L303.50,223.69 L304.00,224.51 L304.50,226.15 L305.00,225.02 L305.50,224.74 L306.00,225.94 L306.50,225.97 L307.00,226.18 L307.50,226.10 L308.00,226.51 L308.50,224.64 L309.00,225.82 L309.50,224.18 L310.00,225.32 L310.50,224.86 L311.00,224.89 L311.50,225.48 L312.00,224.85 L312.50,225.84 L313.00,225.84 L313.50,225.47 L314.00,225.11 L314.50,225.11 L315.00,225.37 L315.50,225.65 L316.00,225.75 L316.50,227.92 L317.00,226.03 L317.50,225.97 L318.00,224.56 L318.50,224.50 L319.00,224.65 L319.50,224.93 L320.00,223.96 L320.50,225.96 L321.00,224.39 L321.50,225.75 L322.00,223.34 L322.50,225.27 L323.00,225.65 L323.50,225.75 L324.00,226.17 L324.50,226.00 L325.00,225.92 L325.50,224.33 L326.00,225.11 L326.50,223.74 L327.00,225.80 L327.50,225.39 L328.00,224.85 L328.50,224.25 L329.00,224.35 L329.50,226.15 L330.00,226.09 L330.50,224.84 L331.00,225.98 L331.50,223.99 L332.00,223.90 L332.50,225.16 L333.00,225.00 L333.50,225.34 L334.00,225.94 L334.50,228.05 L335.00,225.22 L335.50,225.63 L336.00,225.65 L336.50,225.25 L337.00,225.81 L337.50,226.29 L338.00,223.92 L338.50,224.92 L339.00,224.60 L339.50,225.12 L340.00,223.81 L340.50,223.78 L341.00,223.53 L341.50,225.83 L342.00,225.73 L342.50,225.76 L343.00,224.00 L343.50,225.52 L344.00,225.20 L344.50,224.61 L345.00,224.86 L345.50,225.91 L346.00,225.63 L346.50,225.05 L347.00,225.32 L347.50,224.40 L348.00,224.87 L348.50,224.87 L349.00,225.33 L349.50,224.98 L350.00,225.07 L350.50,225.24 L351.00,225.02 L351.50,227.32 L352.00,226.13 L352.50,226.12 L353.00,227.51 L353.50,226.79 L354.00,224.46 L354.50,226.01 L355.00,225.96 L355.50,226.59 L356.00,226.02 L356.50,225.50 L357.00,223.98 L357.50,224.20 L358.00,225.09 L358.50,225.36 L359.00,224.34 L359.50,224.97 L360.00,225.12 L360.50,225.62 L361.00,225.94 L361.50,225.56 L362.00,224.87 L362.50,226.71 L363.00,226.90 L363.50,225.51 L364.00,226.21 L364.50,225.62 L365.00,225.63 L365.50,225.37 L366.00,224.35 L366.50,225.31 L367.00,225.64 L367.50,224.27 L368.00,226.53 L368.50,226.75 L369.00,226.71 L369.50,226.99 L370.00,226.19 L370.50,225.48 L371.00,225.34 L371.50,225.19 L372.00,225.84 L372.50,225.64 L373.00,226.04 L373.50,223.88 L374.00,226.98 L374.50,226.81 L375.00,224.97 L375.50,225.43 L376.00,225.26 L376.50,225.14 L377.00,224.85 L377.50,225.03 L378.00,224.65 L378.50,225.55 L379.00,225.54 L379.50,225.92 L380.00,225.12 L380.50,225.83 L381.00,225.82 L381.50,226.18 L382.00,224.83 L382.50,225.81 L383.00,226.08 L383.50,225.65 L384.00,224.80 L384.50,224.62 L385.00,224.76 L385.50,225.48 L386.00,226.15 L386.50,224.96 L387.00,224.72 L387.50,225.62 L388.00,225.64 L388.50,224.93 L389.00,225.17 L389.50,225.71 L390.00,226.30 L390.50,224.87 L391.00,224.93 L391.50,225.96 L392.00,224.53 L392.50,225.39 L393.00,225.44 L393.50,224.98 L394.00,224.22 L394.50,224.91 L395.00,224.73 L395.50,225.29 L396.00,224.51 L396.50,226.09 L397.00,224.15 L397.50,225.42 L398.00,225.67 L398.50,226.47 L399.00,225.34 L399.50,226.20 L400.00,225.32 L400.50,226.21 L401.00,226.84 L401.50,225.10 L402.00,225.60 L402.50,224.45 L403.00,225.78 L403.50,225.91 L404.00,225.01 L404.50,224.17 L405.00,225.40 L405.50,226.07 L406.00,226.16 L406.50,226.09 L407.00,224.23 L407.50,225.20 L408.00,226.84 L408.50,224.88 L409.00,226.63 L409.50,227.13 L410.00,226.19 L410.50,226.34 L411.00,225.11 L411.50,224.32 L412.00,225.05 L412.50,224.90 L413.00,224.98 L413.50,225.55 L414.00,224.97 L414.50,225.31 L415.00,225.60 L415.50,225.41 L416.00,226.92 L416.50,225.99 L417.00,225.80 L417.50,225.63 L418.00,225.33 L418.50,226.77 L419.00,225.80 L419.50,224.77 L420.00,225.03 L420.50,225.23 L421.00,224.88 L421.50,225.93 L422.00,224.19 L422.50,225.41 L423.00,225.18 L423.50,224.25 L424.00,225.27 L424.50,225.28 L425.00,225.85 L425.50,225.26 L426.00,225.92 L426.50,224.52 L427.00,224.99 L427.50,226.38 L428.00,226.52 L428.50,225.64 L429.00,225.09 L429.50,226.23 L430.00,223.73 L430.50,224.60 L431.00,225.62 L431.50,225.57 L432.00,224.30 L432.50,223.70 L433.00,226.28 L433.50,225.41 L434.00,224.74 L434.50,225.58 L435.00,226.32 L435.50,223.79 L436.00,226.62 L436.50,226.35 L437.00,224.21 L437.50,226.29 L438.00,224.28 L438.50,226.36 L439.00,225.69 L439.50,226.97 L440.00,224.73 L440.50,225.13 L441.00,225.88 L441.50,224.63 L442.00,224.64 L442.50,224.97 L443.00,225.30 L443.50,224.66 L444.00,225.95 L444.50,226.10 L445.00,225.81 L445.50,227.07 L446.00,225.55 L446.50,226.73 L447.00,225.27 L447.50,226.15 L448.00,224.02 L448.50,225.51 L449.00,225.13 L449.50,224.81 L450.00,224.68 L450.50,224.87 L451.00,224.62 L451.50,223.58 L452.00,224.87 L452.50,225.01 L453.00,225.14 L453.50,224.85 L454.00,225.62 L454.50,226.37 L455.00,225.61 L455.50,225.41 L456.00,226.75 L456.50,226.38 L457.00,226.24 L457.50,226.31 L458.00,225.09 L458.50,225.15 L459.00,226.02 L459.50,224.74 L460.00,225.07 L460.50,225.49 L461.00,225.56 L461.50,225.17 L462.00,226.22 L462.50,225.45 L463.00,226.23 L463.50,226.55 L464.00,226.29 L464.50,226.35 L465.00,224.90 L465.50,224.72 L466.00,225.16 L466.50,225.88 L467.00,226.54 L467.50,224.40 L468.00,225.48 L468.50,224.56 L469.00,224.63 L469.50,225.00 L470.00,225.78 L470.50,225.50 L471.00,226.32 L471.50,224.80 L472.00,226.30 L472.50,226.41 L473.00,225.83 L473.50,226.16 L474.00,225.37 L474.50,224.93"/>
</g>
<g clip-path="url(#cr)" fill="none" stroke="#5077ba" stroke-width="1.25" stroke-linejoin="round">
<path d="M569.70,20.10 L569.90,23.52 L570.20,28.41 L570.53,34.02 L570.85,39.61 L571.10,44.40 L571.26,48.55 L571.35,52.57 L571.43,56.23 L571.53,59.31 L571.70,61.60 L571.97,63.11 L572.31,63.99 L572.67,64.22 L573.02,63.76 L573.30,62.60 L573.50,60.23 L573.64,56.68 L573.76,52.68 L573.90,49.01 L574.10,46.40 L574.37,44.98 L574.69,44.24 L575.03,44.01 L575.37,44.12 L575.70,44.40 L576.00,45.02 L576.28,46.09 L576.57,47.35 L576.87,48.54 L577.20,49.40 L577.57,49.84 L577.96,50.04 L578.38,50.11 L578.79,50.19 L579.20,50.40 L579.58,50.62 L579.95,50.78 L580.33,51.03 L580.74,51.55 L581.20,52.50 L581.73,54.04 L582.32,56.06 L582.94,58.32 L583.58,60.58 L584.20,62.60 L584.82,64.42 L585.46,66.20 L586.09,67.88 L586.71,69.40 L587.30,70.70 L587.82,71.76 L588.28,72.62 L588.75,73.31 L589.27,73.86 L589.90,74.30 L590.68,74.58 L591.56,74.69 L592.50,74.69 L593.46,74.67 L594.40,74.70 L594.98,74.78 L595.22,74.86 L595.64,74.94 L596.73,75.02 L599.00,75.10 L602.62,75.19 L607.26,75.28 L612.65,75.38 L618.52,75.45 L624.60,75.50 L630.98,75.52 L637.83,75.51 L645.04,75.49 L652.47,75.45 L660.00,75.40 L667.99,75.34 L676.51,75.25 L685.05,75.16 L693.05,75.07 L700.00,75.00 L705.89,74.98 L711.08,75.01 L715.57,75.02 L719.34,74.97 L722.40,74.80 L724.49,74.55 L725.60,74.26 L726.14,73.87 L726.47,73.30 L727.00,72.50 L727.68,71.50 L728.26,70.33 L728.79,68.96 L729.32,67.33 L729.90,65.40 L730.55,62.73 L731.24,59.35 L731.94,55.92 L732.60,53.08 L733.20,51.50 L733.70,51.46 L734.13,52.52 L734.53,54.25 L734.94,56.22 L735.40,58.00 L735.92,59.75 L736.46,61.75 L737.02,63.77 L737.60,65.57 L738.20,66.90 L738.81,67.71 L739.44,68.14 L740.09,68.31 L740.74,68.30 L741.40,68.20 L742.07,67.94 L742.75,67.45 L743.44,66.86 L744.12,66.27 L744.80,65.80 L745.47,65.54 L746.13,65.41 L746.79,65.28 L747.45,65.02 L748.10,64.50 L748.75,63.66 L749.41,62.59 L750.05,61.38 L750.69,60.12 L751.30,58.90 L751.89,57.65 L752.45,56.31 L753.00,54.99 L753.55,53.78 L754.10,52.80 L754.66,52.02 L755.22,51.36 L755.78,50.87 L756.34,50.57 L756.90,50.50 L757.45,50.70 L757.98,51.16 L758.52,51.80 L759.08,52.54 L759.70,53.30 L760.40,54.18 L761.16,55.23 L761.94,56.30 L762.70,57.27 L763.40,58.00 L764.02,58.46 L764.58,58.74 L765.12,58.88 L765.65,58.92 L766.20,58.90 L766.76,58.78 L767.32,58.53 L767.88,58.21 L768.44,57.88 L769.00,57.60 L769.56,57.30 L770.12,56.93 L770.68,56.61 L771.24,56.43 L771.80,56.50 L772.36,56.84 L772.92,57.39 L773.48,58.10 L774.04,58.95 L774.60,59.90 L775.14,61.05 L775.65,62.41 L776.18,63.85 L776.75,65.23 L777.40,66.40 L778.16,67.41 L779.02,68.35 L779.92,69.16 L780.80,69.76 L781.60,70.10 L782.31,70.11 L782.96,69.83 L783.59,69.36 L784.22,68.78 L784.90,68.20 L785.63,67.65 L786.39,67.08 L787.16,66.40 L787.94,65.57 L788.70,64.50 L789.45,63.17 L790.19,61.61 L790.92,59.89 L791.66,58.03 L792.40,56.10 L793.16,53.80 L793.95,51.10 L794.72,48.43 L795.45,46.22 L796.10,44.90 L796.65,44.60 L797.12,45.03 L797.54,46.00 L797.96,47.29 L798.40,48.70 L798.87,50.39 L799.33,52.51 L799.81,54.80 L800.29,57.01 L800.80,58.90 L801.33,60.47 L801.89,61.88 L802.46,63.13 L803.03,64.21 L803.60,65.10 L804.16,65.76 L804.72,66.20 L805.28,66.49 L805.84,66.70 L806.40,66.90 L806.95,67.04 L807.48,67.07 L808.02,67.07 L808.58,67.12 L809.20,67.30 L809.82,67.67 L810.43,68.17 L811.10,68.72 L811.90,69.22 L812.90,69.60 L814.19,69.79 L815.72,69.86 L817.35,69.89 L818.96,69.94 L820.40,70.10 L821.61,70.40 L822.69,70.79 L823.72,71.22 L824.80,71.64 L826.00,72.00 L827.33,72.31 L828.73,72.59 L830.21,72.85 L831.76,73.09 L833.40,73.30 L835.19,73.51 L837.12,73.70 L839.10,73.87 L841.03,73.98 L842.80,74.00 L844.42,73.90 L845.95,73.69 L847.40,73.44 L848.75,73.19 L850.00,73.00 L851.05,72.84 L851.92,72.66 L852.73,72.52 L853.64,72.48 L854.80,72.60 L856.14,72.96 L857.56,73.54 L859.16,74.18 L861.04,74.75 L863.30,75.10 L866.26,75.17 L869.85,75.05 L873.60,74.85 L877.01,74.66 L879.60,74.60 L880.49,74.69 L880.01,74.86 L879.47,75.08 L880.19,75.27 L883.50,75.40 L890.03,75.45 L898.90,75.46 L909.16,75.44 L919.85,75.41 L930.00,75.40 L940.45,75.40 L951.85,75.40 L962.93,75.40 L972.47,75.40 L979.20,75.40"/>
<path d="M569.60,86.00 L569.77,93.26 L570.01,103.87 L570.28,115.74 L570.56,126.81 L570.80,135.00 L570.99,139.94 L571.17,143.01 L571.33,144.78 L571.51,145.79 L571.70,146.60 L571.91,147.21 L572.13,147.24 L572.37,146.70 L572.62,145.62 L572.90,144.00 L573.21,141.22 L573.54,137.27 L573.90,133.09 L574.25,129.62 L574.60,127.80 L574.94,128.16 L575.29,130.09 L575.64,132.77 L575.98,135.40 L576.30,137.20 L576.59,138.09 L576.87,138.60 L577.13,138.83 L577.41,138.90 L577.70,138.90 L578.02,138.64 L578.36,138.06 L578.71,137.43 L579.06,137.05 L579.40,137.20 L579.74,138.04 L580.08,139.38 L580.42,140.99 L580.76,142.61 L581.10,144.00 L581.44,145.20 L581.78,146.36 L582.12,147.45 L582.46,148.41 L582.80,149.20 L583.14,149.71 L583.48,149.97 L583.82,150.14 L584.16,150.40 L584.50,150.90 L584.84,151.69 L585.18,152.65 L585.52,153.73 L585.86,154.87 L586.20,156.00 L586.54,157.19 L586.88,158.48 L587.22,159.78 L587.56,160.98 L587.90,162.00 L588.21,162.82 L588.49,163.52 L588.79,164.10 L589.14,164.56 L589.60,164.90 L590.19,165.09 L590.90,165.11 L591.66,165.05 L592.41,164.95 L593.10,164.90 L593.69,164.86 L594.23,164.79 L594.75,164.72 L595.33,164.71 L596.00,164.80 L596.82,165.05 L597.75,165.45 L598.72,165.87 L599.66,166.23 L600.50,166.40 L601.21,166.32 L601.85,166.06 L602.43,165.73 L603.01,165.44 L603.60,165.30 L603.80,165.36 L603.58,165.55 L603.56,165.78 L604.36,165.99 L606.60,166.10 L610.78,166.08 L616.48,165.98 L622.96,165.85 L629.45,165.71 L635.20,165.60 L639.98,165.51 L644.31,165.41 L648.51,165.33 L652.90,165.29 L657.80,165.30 L663.61,165.42 L670.10,165.62 L676.70,165.84 L682.82,166.02 L687.90,166.10 L691.76,166.06 L694.78,165.95 L697.22,165.78 L699.34,165.56 L701.40,165.30 L703.36,164.92 L705.05,164.42 L706.52,163.91 L707.82,163.50 L709.00,163.30 L710.00,163.42 L710.79,163.77 L711.45,164.21 L712.06,164.60 L712.70,164.80 L713.35,164.73 L713.95,164.48 L714.55,164.18 L715.15,163.91 L715.80,163.80 L716.50,163.88 L717.23,164.08 L717.98,164.34 L718.74,164.60 L719.50,164.80 L720.26,164.96 L721.02,165.12 L721.78,165.25 L722.54,165.32 L723.30,165.30 L724.04,165.17 L724.78,164.96 L725.52,164.68 L726.26,164.39 L727.00,164.10 L727.74,163.75 L728.48,163.32 L729.22,162.91 L729.99,162.64 L730.80,162.60 L731.65,162.92 L732.54,163.52 L733.45,164.23 L734.38,164.88 L735.30,165.30 L736.21,165.46 L737.12,165.46 L738.04,165.36 L738.99,165.22 L740.00,165.10 L741.10,165.07 L742.28,165.09 L743.47,165.04 L744.63,164.82 L745.70,164.30 L746.65,163.47 L747.52,162.42 L748.35,161.15 L749.16,159.67 L750.00,158.00 L750.87,156.05 L751.76,153.81 L752.64,151.41 L753.50,148.97 L754.30,146.60 L755.06,144.13 L755.81,141.48 L756.51,138.91 L757.14,136.70 L757.70,135.10 L758.14,134.24 L758.49,133.95 L758.78,134.03 L759.07,134.31 L759.40,134.60 L759.77,135.12 L760.14,136.00 L760.52,136.90 L760.94,137.48 L761.40,137.40 L761.90,136.68 L762.43,135.55 L763.00,133.98 L763.62,131.94 L764.30,129.40 L765.09,126.12 L765.99,122.12 L766.92,117.77 L767.81,113.41 L768.60,109.40 L769.27,105.66 L769.87,101.94 L770.41,98.39 L770.92,95.13 L771.40,92.30 L771.86,89.76 L772.27,87.42 L772.66,85.49 L773.03,84.18 L773.40,83.70 L773.74,83.95 L774.06,84.81 L774.37,86.39 L774.71,88.85 L775.10,92.30 L775.57,97.33 L776.09,103.83 L776.64,110.97 L777.18,117.87 L777.70,123.70 L778.17,128.43 L778.61,132.64 L779.05,136.34 L779.51,139.55 L780.00,142.30 L780.52,144.53 L781.05,146.23 L781.62,147.48 L782.23,148.34 L782.90,148.90 L783.66,149.09 L784.51,148.86 L785.39,148.30 L786.26,147.52 L787.10,146.60 L787.90,145.59 L788.70,144.41 L789.47,143.03 L790.21,141.37 L790.90,139.40 L791.54,136.93 L792.13,134.01 L792.69,130.89 L793.21,127.83 L793.70,125.10 L794.16,122.54 L794.59,119.99 L794.98,117.66 L795.35,115.79 L795.70,114.60 L796.00,114.07 L796.26,114.05 L796.50,114.57 L796.77,115.67 L797.10,117.40 L797.50,119.95 L797.95,123.31 L798.42,127.16 L798.91,131.19 L799.40,135.10 L799.87,139.17 L800.32,143.60 L800.80,147.97 L801.31,151.85 L801.90,154.80 L802.58,156.61 L803.33,157.56 L804.12,157.98 L804.92,158.22 L805.70,158.60 L806.44,159.08 L807.17,159.42 L807.91,159.72 L808.68,160.05 L809.50,160.50 L810.30,161.14 L811.07,161.92 L811.92,162.72 L812.96,163.45 L814.30,164.00 L815.99,164.34 L817.95,164.53 L820.12,164.63 L822.42,164.67 L824.80,164.70 L827.30,164.71 L829.98,164.68 L832.74,164.60 L835.51,164.51 L838.20,164.40 L840.92,164.24 L843.72,164.02 L846.45,163.81 L848.96,163.65 L851.10,163.60 L852.72,163.71 L853.90,163.94 L854.90,164.22 L855.96,164.49 L857.30,164.70 L858.96,164.84 L860.77,164.96 L862.70,165.05 L864.73,165.10 L866.80,165.10 L869.02,165.00 L871.40,164.82 L873.82,164.62 L876.13,164.46 L878.20,164.40 L879.83,164.50 L881.10,164.71 L882.32,164.96 L883.82,165.18 L885.90,165.30 L888.81,165.28 L892.33,165.17 L896.11,165.02 L899.79,164.91 L903.00,164.90 L904.81,165.03 L905.45,165.25 L906.34,165.50 L908.88,165.74 L914.50,165.90 L925.07,165.96 L939.66,165.97 L955.42,165.95 L969.55,165.92 L979.20,165.90"/>
<path d="M570.30,112.00 L570.42,129.91 L570.59,156.27 L570.80,185.51 L571.04,212.07 L571.30,230.40 L571.59,239.02 L571.92,241.63 L572.28,240.45 L572.64,237.70 L573.00,235.60 L573.36,233.35 L573.72,229.46 L574.08,225.14 L574.44,221.59 L574.80,220.00 L575.15,221.20 L575.49,224.40 L575.82,228.34 L576.16,231.79 L576.50,233.50 L576.84,233.08 L577.19,231.38 L577.54,228.95 L577.88,226.37 L578.20,224.20 L578.50,222.23 L578.78,220.07 L579.05,218.06 L579.32,216.52 L579.60,215.80 L579.89,216.24 L580.18,217.62 L580.48,219.41 L580.79,221.08 L581.10,222.10 L581.43,222.41 L581.77,222.37 L582.12,222.05 L582.46,221.57 L582.80,221.00 L583.13,220.06 L583.45,218.67 L583.77,217.29 L584.09,216.36 L584.40,216.30 L584.71,217.25 L585.01,218.92 L585.31,221.12 L585.61,223.64 L585.90,226.30 L586.17,229.35 L586.40,232.91 L586.65,236.61 L586.94,240.07 L587.30,242.90 L587.76,245.00 L588.31,246.63 L588.89,247.94 L589.46,249.07 L590.00,250.20 L590.49,251.36 L590.95,252.45 L591.41,253.40 L591.85,254.14 L592.30,254.60 L592.74,254.62 L593.17,254.26 L593.60,253.74 L594.04,253.28 L594.50,253.10 L594.96,253.28 L595.43,253.65 L595.91,254.13 L596.43,254.62 L597.00,255.00 L597.64,255.31 L598.35,255.61 L599.08,255.86 L599.81,256.04 L600.50,256.10 L601.12,255.97 L601.70,255.68 L602.28,255.34 L602.90,255.04 L603.60,254.90 L604.29,254.94 L604.94,255.10 L605.69,255.33 L606.70,255.58 L608.10,255.80 L609.73,256.03 L611.49,256.29 L613.64,256.54 L616.42,256.73 L620.10,256.80 L624.72,256.70 L630.11,256.46 L636.20,256.17 L642.92,255.92 L650.20,255.80 L658.90,255.85 L669.07,256.01 L679.42,256.22 L688.63,256.40 L695.40,256.50 L699.12,256.52 L700.66,256.50 L700.93,256.43 L700.87,256.30 L701.40,256.10 L702.48,255.76 L703.50,255.28 L704.51,254.77 L705.56,254.34 L706.70,254.10 L707.98,254.10 L709.35,254.27 L710.77,254.52 L712.17,254.79 L713.50,255.00 L714.73,255.16 L715.89,255.34 L717.03,255.49 L718.22,255.59 L719.50,255.60 L720.96,255.51 L722.57,255.32 L724.19,255.09 L725.71,254.84 L727.00,254.60 L727.99,254.31 L728.75,253.95 L729.41,253.61 L730.05,253.39 L730.80,253.40 L731.65,253.75 L732.54,254.37 L733.45,255.08 L734.38,255.72 L735.30,256.10 L736.21,256.16 L737.10,256.01 L738.02,255.76 L738.97,255.49 L740.00,255.30 L741.14,255.30 L742.37,255.42 L743.64,255.51 L744.87,255.39 L746.00,254.90 L747.02,254.04 L747.97,252.93 L748.88,251.55 L749.75,249.91 L750.60,248.00 L751.43,245.61 L752.22,242.75 L753.00,239.72 L753.75,236.84 L754.50,234.40 L755.24,232.39 L755.96,230.60 L756.67,229.07 L757.38,227.82 L758.10,226.90 L758.83,226.54 L759.57,226.72 L760.30,227.09 L761.02,227.27 L761.70,226.90 L762.32,226.08 L762.90,225.06 L763.46,223.68 L764.05,221.81 L764.70,219.30 L765.45,215.92 L766.28,211.76 L767.12,207.18 L767.95,202.54 L768.70,198.20 L769.39,193.90 L770.04,189.41 L770.66,185.11 L771.21,181.38 L771.70,178.60 L772.09,176.82 L772.39,175.79 L772.65,175.44 L772.90,175.70 L773.20,176.50 L773.53,177.70 L773.86,179.34 L774.20,181.65 L774.58,184.83 L775.00,189.10 L775.48,195.23 L776.00,203.08 L776.56,211.49 L777.13,219.32 L777.70,225.40 L778.28,229.49 L778.87,232.35 L779.48,234.37 L780.09,235.93 L780.70,237.40 L781.32,238.77 L781.94,239.79 L782.56,240.48 L783.18,240.88 L783.80,241.00 L784.39,240.76 L784.96,240.12 L785.54,239.25 L786.14,238.29 L786.80,237.40 L787.54,236.73 L788.34,236.17 L789.16,235.51 L789.96,234.49 L790.70,232.90 L791.37,230.48 L791.99,227.38 L792.59,223.98 L793.15,220.66 L793.70,217.80 L794.22,215.18 L794.72,212.54 L795.19,210.22 L795.65,208.53 L796.10,207.80 L796.54,208.11 L796.96,209.26 L797.37,211.10 L797.78,213.50 L798.20,216.30 L798.60,219.88 L798.99,224.34 L799.39,229.11 L799.82,233.65 L800.30,237.40 L800.85,240.31 L801.44,242.76 L802.08,244.81 L802.73,246.53 L803.40,248.00 L804.10,249.12 L804.83,249.86 L805.58,250.34 L806.31,250.68 L807.00,251.00 L807.60,251.23 L808.13,251.29 L808.66,251.30 L809.26,251.36 L810.00,251.60 L810.78,252.10 L811.57,252.77 L812.49,253.50 L813.69,254.18 L815.30,254.70 L817.26,255.04 L819.49,255.29 L822.07,255.45 L825.08,255.54 L828.60,255.60 L833.07,255.57 L838.42,255.43 L844.02,255.27 L849.23,255.13 L853.40,255.10 L856.20,255.21 L858.07,255.43 L859.49,255.67 L860.96,255.89 L863.00,256.00 L865.80,255.97 L869.04,255.83 L872.39,255.67 L875.55,255.53 L878.20,255.50 L879.64,255.60 L880.07,255.79 L880.56,256.02 L882.15,256.24 L885.90,256.40 L892.31,256.49 L900.67,256.54 L910.25,256.57 L920.27,256.58 L930.00,256.60 L940.30,256.61 L951.67,256.61 L962.82,256.61 L972.43,256.60 L979.20,256.60"/>
</g>
<g style="font-family:'Liberation Serif',serif;font-size:21px;fill:#000">
<text x="46.6" y="16" text-anchor="end" >1.0</text>
<text x="46.6" y="64.2" text-anchor="end" >0.8</text>
<text x="46.6" y="112.4" text-anchor="end" >0.6</text>
<text x="46.6" y="160.6" text-anchor="end" >0.4</text>
<text x="46.6" y="208.8" text-anchor="end" >0.2</text>
<text x="46.6" y="257" text-anchor="end" >0.0</text>
<text x="126" y="292" text-anchor="middle" >1</text>
<text x="213.1" y="292" text-anchor="middle" >2</text>
<text x="300.2" y="292" text-anchor="middle" >3</text>
<text x="387.3" y="292" text-anchor="middle" >4</text>
<text x="474.4" y="292" text-anchor="middle" >5</text>
<text x="261.25" y="315.5" text-anchor="middle" >Time Delay, ps</text>
<text transform="translate(16.5,141.25) rotate(-90)" text-anchor="middle" textLength="98" lengthAdjust="spacing">&#916;T/T, A.U.</text>
<text x="387.6" y="51.7" text-anchor="middle" >Mg:LN</text>
<text x="387.6" y="135.4" text-anchor="middle" >Fe:LN</text>
<text x="387.6" y="207.6" text-anchor="middle" >CLN</text>
<text x="567.3" y="36.9" text-anchor="end" >150</text>
<text x="567.3" y="112.8" text-anchor="end" >100</text>
<text x="567.3" y="188.7" text-anchor="end" >50</text>
<text x="567.3" y="264.6" text-anchor="end" >0</text>
<text x="568.0" y="281" text-anchor="middle" >0</text>
<text x="636.5" y="281" text-anchor="middle" >100</text>
<text x="705.1" y="281" text-anchor="middle" >200</text>
<text x="773.6" y="281" text-anchor="middle" >300</text>
<text x="842.1" y="281" text-anchor="middle" >400</text>
<text x="910.7" y="281" text-anchor="middle" >500</text>
<text x="979.2" y="281" text-anchor="middle" >600</text>
<text x="693" y="304.5">Wavenumber, cm<tspan dy="-6.6" font-size="16">&#8722;1</tspan></text>
<text transform="translate(531,135.1) rotate(-90)" text-anchor="middle" textLength="167.4" lengthAdjust="spacing">FFT Intensity, A.U.</text>
<text x="876.5" y="67.2" text-anchor="middle" >Mg:LN</text>
<text x="876.5" y="157.7" text-anchor="middle" >Fe:LN</text>
<text x="876.4" y="249" text-anchor="middle" >CLN</text>
</g>
<text x="1" y="313.5" style="font-family:'Liberation Sans',sans-serif;font-weight:bold;font-size:27px;fill:#000">(a)</text>
<text x="515" y="313.5" style="font-family:'Liberation Sans',sans-serif;font-weight:bold;font-size:27px;fill:#000">(b)</text>
</svg>
</body></html>
